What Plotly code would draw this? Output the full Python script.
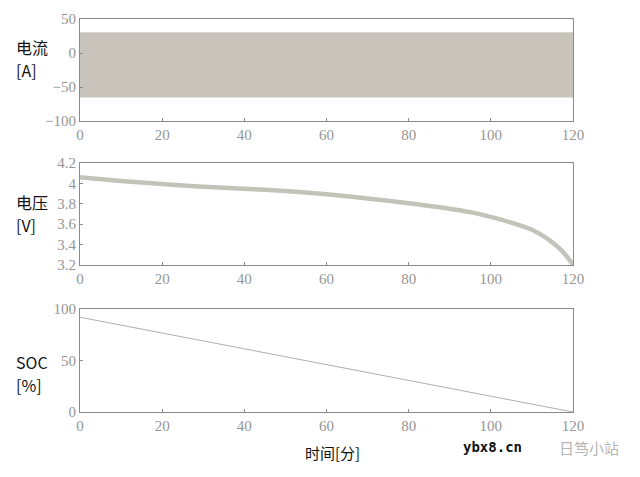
import plotly.graph_objects as go

# ---- data ----
time_env = [0, 20, 40, 60, 80, 100, 120]
current_upper = [30, 30, 30, 30, 30, 30, 30]
current_lower = [-65, -65, -65, -65, -65, -65, -65]

volt_time = [0, 10, 20, 30, 40, 50, 60, 70, 80, 90, 95, 100, 105, 110, 113, 115, 117, 118.5, 120]
voltage = [4.06, 4.024, 3.994, 3.968, 3.948, 3.925, 3.893, 3.852, 3.805, 3.752, 3.718, 3.672,
           3.615, 3.545, 3.478, 3.42, 3.35, 3.285, 3.20]

soc_time = [0, 120]
soc = [92, 0]

x_ticks = [0, 20, 40, 60, 80, 100, 120]
cur_ticks = [50, 0, -50, -100]
volt_ticks = [4.2, 4, 3.8, 3.6, 3.4, 3.2]
volt_ticklabels = ["4.2", "4", "3.8", "3.6", "3.4", "3.2"]
soc_ticks = [100, 50, 0]

W, H = 640, 477
OFF = 8  # page offset of the figure inside the browser window

def ydom(top_px, bot_px):
    return [1 - (bot_px - OFF) / H, 1 - (top_px - OFF) / H]

def px_x(x):
    return (x - OFF) / W

def px_y(y):
    return 1 - (y - OFF) / H

xdom = [px_x(80), px_x(573)]

fig = go.Figure()

band_col = "#c8c4bc"
# current band (envelope of dense oscillation)
fig.add_trace(go.Scatter(x=time_env, y=current_lower, mode="lines",
                         line=dict(width=0.8, color="#d2cfc8"), xaxis="x", yaxis="y",
                         showlegend=False, hoverinfo="skip"))
fig.add_trace(go.Scatter(x=time_env, y=current_upper, mode="lines",
                         line=dict(width=0.8, color="#d2cfc8"), fill="tonexty",
                         fillcolor=band_col, xaxis="x", yaxis="y", showlegend=False))

# voltage (thick band)
fig.add_trace(go.Scatter(x=volt_time, y=voltage, mode="lines",
                         line=dict(width=4.5, color="#c4c3b9", shape="spline", smoothing=0.8),
                         xaxis="x2", yaxis="y2", showlegend=False))

# SOC
fig.add_trace(go.Scatter(x=soc_time, y=soc, mode="lines",
                         line=dict(width=1, color="#b3aeae"),
                         xaxis="x3", yaxis="y3", showlegend=False))

serif = "Liberation Serif, DejaVu Serif, serif"
axcol = "#8a8a8a"
tickfont = dict(family=serif, size=15, color="#959595")

def xax(anchor):
    return dict(domain=xdom, anchor=anchor, range=[0, 120], tickvals=x_ticks,
                ticks="inside", ticklen=3, tickcolor=axcol, showline=True,
                linecolor=axcol, linewidth=1, mirror=True, showgrid=False,
                zeroline=False, tickfont=tickfont, automargin=False)

def yax(anchor, dom, rng, tv, tt=None):
    d = dict(domain=dom, anchor=anchor, range=rng, tickvals=tv,
             ticks="inside", ticklen=3, tickcolor=axcol, showline=True,
             linecolor=axcol, linewidth=1, mirror=True, showgrid=False,
             zeroline=False, tickfont=tickfont, automargin=False)
    if tt is not None:
        d["ticktext"] = tt
    return d

fig.update_layout(
    width=W, height=H,
    margin=dict(l=0, r=0, t=0, b=0),
    paper_bgcolor="white", plot_bgcolor="white",
    xaxis=xax("y"),
    yaxis=yax("x", ydom(19, 121), [-100, 50], cur_ticks),
    xaxis2=xax("y2"),
    yaxis2=yax("x2", ydom(163, 265), [3.2, 4.2], volt_ticks, volt_ticklabels),
    xaxis3=xax("y3"),
    yaxis3=yax("x3", ydom(309, 412), [0, 100], soc_ticks),
)

sans = "Noto Sans CJK SC, Noto Sans, sans-serif"
labels = [("电流", 47), ("[A]", 70), ("电压", 202), ("[V]", 225), ("SOC", 362), ("[%]", 385)]
for txt, ypx in labels:
    fig.add_annotation(text=txt, xref="paper", yref="paper", x=px_x(14), y=px_y(ypx),
                       xanchor="left", yanchor="middle", align="left", showarrow=False,
                       font=dict(family=sans, size=16, color="#111"))

fig.add_annotation(text="时间[分]", xref="paper", yref="paper", x=px_x(332), y=px_y(452),
                   xanchor="center", yanchor="middle", showarrow=False,
                   font=dict(family=sans, size=15, color="#111"))

fig.add_annotation(text="<b>ybx8.cn</b>", xref="paper", yref="paper", x=px_x(461), y=px_y(447),
                   xanchor="left", yanchor="middle", showarrow=False,
                   font=dict(family="DejaVu Sans Mono, monospace", size=14, color="#111"))
fig.add_annotation(text="日笃小站", xref="paper", yref="paper", x=px_x(557), y=px_y(447),
                   xanchor="left", yanchor="middle", showarrow=False,
                   font=dict(family=sans, size=15, color="#b5b5b5"))

fig.write_html("out.html")
